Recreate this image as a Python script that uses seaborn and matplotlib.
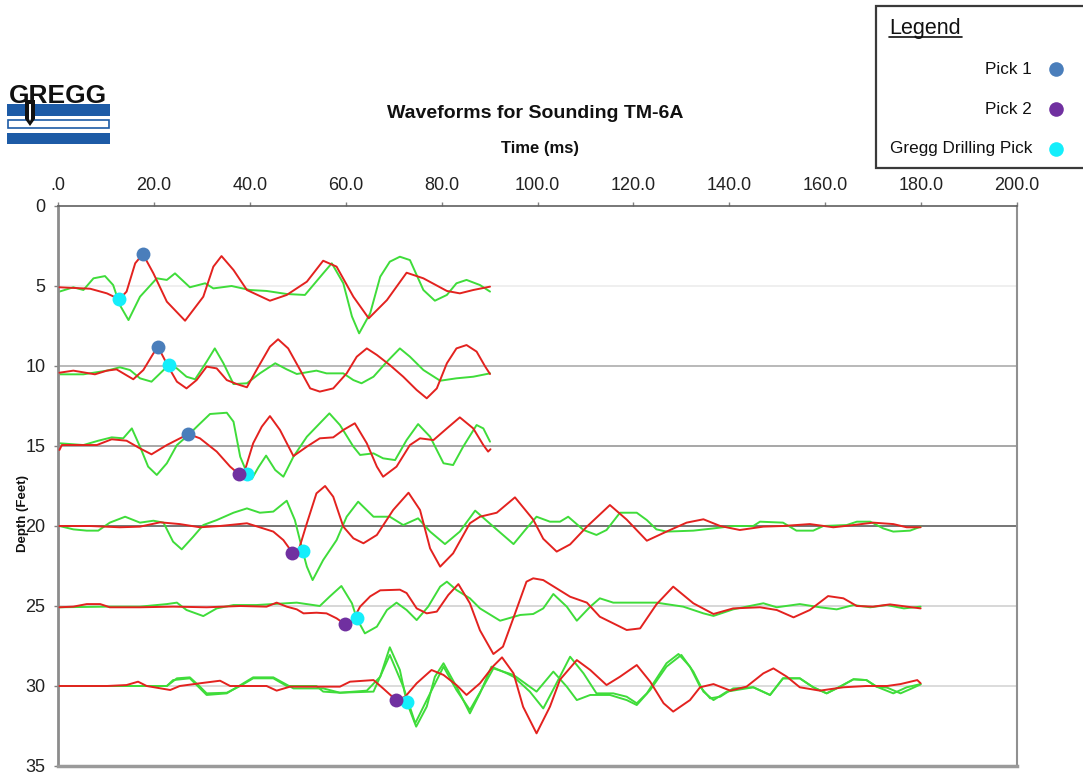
import pandas as pd
import seaborn as sns
import matplotlib
matplotlib.use('Agg')
import matplotlib.pyplot as plt
from matplotlib.patches import Rectangle, Polygon
from matplotlib.lines import Line2D

# waveform traces: time (ms) and plotted depth (ft)
t5_red = [0.3, 6.7, 10.2, 12.8, 14.3, 16.1, 17.7, 19.9, 22.7, 26.5, 30.3, 32.4, 34.1, 36.6, 39.4, 44.2, 47.7, 51.9,
          55.3, 58.1, 61.6, 64.8, 68.6, 72.7, 76.2, 81.1, 83.8, 86.6, 90.1]
d5_red = [5.08, 5.17, 5.46, 5.83, 5.35, 3.58, 3.0, 4.21, 5.98, 7.17, 5.67, 3.79, 3.13, 4.0, 5.25, 5.92, 5.56, 4.73,
          3.42, 3.79, 5.67, 7.02, 5.88, 4.17, 4.52, 5.31, 5.46, 5.25, 5.04]
t5_green = [0.3, 3.2, 5.3, 7.4, 9.8, 11.5, 12.9, 14.7, 17.1, 20.6, 22.7, 24.4, 27.5, 30.7, 32.4, 36.2, 40.0, 43.5,
            47.7, 51.5, 55.3, 57.1, 59.5, 61.3, 62.8, 65.1, 67.2, 69.2, 71.3, 73.4, 76.2, 78.6, 81.1, 83.1, 85.2,
            88.0, 90.1]
d5_green = [5.35, 5.08, 5.25, 4.52, 4.38, 4.94, 6.19, 7.13, 5.67, 4.52, 4.62, 4.21, 5.08, 4.83, 5.15, 5.0, 5.25, 5.31,
            5.5, 5.56, 4.21, 3.58, 4.83, 6.9, 7.96, 6.71, 4.42, 3.48, 3.17, 3.38, 5.25, 5.92, 5.56, 4.83, 4.62,
            4.94, 5.35]

t10_red = [0.3, 3.2, 7.7, 10.2, 12.2, 15.7, 17.8, 19.9, 20.9, 23.0, 24.8, 26.8, 28.9, 31.0, 33.1, 35.2, 37.3, 39.4,
           41.4, 44.2, 45.9, 48.0, 50.5, 52.6, 54.6, 57.4, 60.2, 62.3, 64.4, 66.5, 69.2, 72.0, 74.8, 76.9, 79.0,
           81.1, 83.1, 85.2, 87.3, 89.1, 90.1]
d10_red = [10.42, 10.29, 10.52, 10.29, 10.21, 10.83, 10.25, 9.21, 8.83, 10.04, 10.98, 11.4, 10.88, 10.04, 10.15,
           10.88, 11.13, 11.33, 10.25, 8.79, 8.33, 8.9, 10.25, 11.4, 11.6, 11.4, 10.46, 9.42, 8.9, 9.31, 9.94,
           10.67, 11.5, 12.02, 11.4, 9.83, 8.9, 8.69, 9.1, 10.04, 10.5]
t10_green = [0.3, 5.3, 10.2, 12.9, 15.0, 17.1, 19.5, 21.3, 23.1, 24.8, 26.8, 28.6, 31.0, 32.7, 34.5, 36.6, 39.4,
             42.1, 45.3, 47.7, 49.8, 53.9, 56.0, 59.5, 61.6, 63.3, 65.8, 68.6, 71.3, 73.4, 76.2, 79.7, 83.1, 86.6,
             90.1]
d10_green = [10.52, 10.52, 10.29, 10.08, 10.25, 10.77, 10.98, 10.46, 9.94, 10.15, 10.67, 10.83, 9.73, 8.9, 9.83,
             11.13, 11.08, 10.46, 9.83, 10.21, 10.5, 10.29, 10.46, 10.46, 10.88, 11.08, 10.67, 9.73, 8.9, 9.42,
             10.25, 10.92, 10.77, 10.67, 10.46]

t15_red = [0.3, 0.8, 5.3, 8.1, 11.2, 14.3, 17.1, 19.5, 22.7, 27.2, 29.6, 33.1, 35.9, 37.7, 39.0, 40.7, 42.5, 44.2,
           46.3, 49.1, 51.9, 54.6, 57.4, 59.5, 61.9, 64.4, 66.5, 67.8, 70.6, 73.4, 75.5, 78.3, 81.1, 83.8, 86.6,
           88.7, 89.7, 90.2]
d15_red = [15.25, 14.94, 14.94, 14.94, 14.58, 14.67, 15.15, 15.52, 14.94, 14.25, 14.52, 15.35, 16.29, 16.75, 16.5,
           14.83, 13.79, 13.13, 14.0, 15.63, 15.04, 14.52, 14.46, 14.0, 13.58, 14.83, 16.29, 16.92, 16.29, 14.94,
           14.52, 14.63, 13.9, 13.21, 13.9, 14.94, 15.35, 15.2]
t15_green = [0.3, 5.3, 8.4, 11.2, 13.6, 15.4, 17.1, 18.8, 20.6, 22.7, 24.8, 27.2, 29.3, 31.7, 35.2, 36.6, 38.0,
             39.5, 40.4, 41.8, 43.4, 45.3, 47.0, 49.1, 51.9, 54.6, 56.6, 58.8, 61.6, 63.0, 65.8, 67.8, 70.3, 72.7,
             75.1, 77.6, 80.4, 82.4, 84.5, 87.3, 88.7, 90.1]
d15_green = [14.83, 14.94, 14.67, 14.46, 14.52, 13.9, 15.04, 16.29, 16.81, 16.08, 14.94, 14.31, 13.69, 13.0, 12.92,
             13.48, 15.67, 16.75, 17.06, 16.33, 15.6, 16.5, 16.92, 15.67, 14.42, 13.58, 12.96, 13.69, 15.04, 15.56,
             15.46, 15.77, 15.88, 14.63, 13.63, 14.42, 16.08, 16.19, 15.04, 13.69, 13.9, 14.73]

t20_red = [0.3, 6.7, 12.9, 17.1, 21.3, 25.4, 29.6, 33.8, 39.4, 42.8, 44.9, 47.0, 48.9, 50.3, 51.9, 53.9, 55.7, 57.4,
           59.5, 61.6, 63.7, 66.5, 69.9, 73.1, 75.5, 77.6, 79.7, 82.4, 85.9, 88.0, 91.5, 95.3, 99.1, 101.2, 104.0,
           106.8, 110.3, 115.1, 118.6, 122.8, 126.9, 131.1, 134.6, 138.1, 142.2, 147.1, 151.2, 156.8, 161.7,
           165.9, 170.0, 174.2, 177.0, 179.9]
d20_red = [20.0, 20.0, 20.08, 20.04, 19.77, 19.88, 20.08, 20.0, 19.83, 20.15, 20.35, 20.88, 21.67, 21.4, 19.83,
           17.96, 17.5, 18.17, 20.04, 20.77, 21.08, 20.56, 19.0, 17.92, 19.0, 21.4, 22.54, 21.71, 19.83, 19.42,
           19.17, 18.21, 19.6, 20.8, 21.6, 21.15, 20.04, 18.69, 19.6, 20.92, 20.35, 19.79, 19.58, 20.0, 20.25,
           20.04, 20.0, 19.88, 20.08, 19.94, 19.79, 19.88, 20.08, 20.08]
t20_green = [0.3, 3.2, 6.0, 8.4, 10.8, 14.0, 17.1, 19.9, 22.0, 24.0, 25.8, 28.2, 30.3, 33.1, 36.6, 39.4, 42.1, 44.9,
             47.7, 49.4, 51.0, 51.9, 53.1, 55.3, 58.1, 60.2, 62.6, 65.8, 69.2, 72.0, 75.1, 77.6, 80.7, 83.8, 87.0,
             90.8, 95.0, 97.7, 99.8, 102.6, 104.7, 106.4, 109.6, 112.3, 114.4, 117.2, 120.7, 122.8, 124.8, 126.9,
             132.5, 136.7, 140.8, 145.0, 146.4, 151.2, 154.0, 157.5, 159.6, 164.5, 166.6, 169.4, 172.1, 174.2,
             177.7, 179.9]
d20_green = [20.0, 20.21, 20.29, 20.29, 19.79, 19.42, 19.79, 19.67, 19.79, 20.98, 21.46, 20.67, 19.94, 19.63, 19.17,
             18.9, 19.17, 19.1, 18.42, 19.63, 21.54, 22.54, 23.38, 22.13, 20.88, 19.42, 18.48, 19.42, 19.42, 19.94,
             19.52, 20.35, 21.13, 20.35, 19.04, 20.04, 21.13, 20.15, 19.42, 19.73, 19.73, 19.42, 20.25, 20.56,
             20.25, 19.17, 19.17, 19.63, 20.21, 20.35, 20.29, 20.15, 20.0, 20.0, 19.73, 19.79, 20.29, 20.29, 20.0,
             19.94, 19.73, 19.73, 20.15, 20.35, 20.29, 20.04]

t25_red = [0.3, 3.2, 6.0, 8.8, 10.8, 17.1, 24.0, 31.0, 38.0, 43.5, 45.6, 47.7, 49.8, 51.2, 53.9, 56.0, 58.1, 59.9,
           61.3, 63.0, 65.1, 67.2, 71.3, 72.7, 74.8, 76.9, 79.0, 81.4, 83.5, 85.9, 88.0, 90.8, 92.8, 95.0, 97.7,
           99.1, 101.2, 104.0, 106.8, 110.3, 113.0, 118.6, 121.4, 124.8, 128.3, 132.5, 136.7, 140.8, 146.4,
           149.9, 153.4, 156.8, 160.6, 163.8, 166.6, 170.0, 173.5, 177.0, 179.9]
d25_red = [25.08, 25.04, 24.88, 24.88, 25.08, 25.08, 25.04, 25.08, 25.0, 25.04, 24.79, 25.04, 25.21, 25.46, 25.42,
           25.46, 25.77, 26.15, 26.0, 25.04, 24.4, 24.02, 23.98, 24.19, 25.15, 25.46, 25.35, 24.31, 23.63, 24.83,
           26.52, 28.0, 27.54, 25.73, 23.48, 23.27, 23.38, 23.9, 24.42, 24.79, 25.67, 26.5, 26.4, 24.9, 23.79,
           24.83, 25.5, 25.15, 25.08, 25.25, 25.71, 25.25, 24.38, 24.52, 25.0, 25.04, 24.9, 25.04, 25.15]
t25_green = [0.3, 10.2, 17.1, 22.7, 24.8, 26.8, 30.3, 33.1, 36.6, 41.4, 49.8, 54.6, 56.7, 59.1, 61.3, 62.3, 64.0,
             66.5, 68.6, 70.6, 72.7, 74.8, 77.2, 79.7, 81.1, 83.1, 85.9, 88.0, 92.2, 96.4, 99.1, 101.2, 103.3,
             106.1, 108.2, 111.0, 113.0, 115.8, 121.4, 124.8, 130.4, 134.6, 136.7, 140.8, 147.1, 149.9, 154.7,
             158.9, 162.4, 165.9, 169.4, 172.9, 176.4, 179.9]
d25_green = [25.08, 25.04, 25.04, 24.88, 24.79, 25.25, 25.63, 25.15, 24.94, 24.94, 24.79, 25.0, 24.4, 23.75, 24.83,
             25.77, 26.71, 26.29, 25.25, 24.79, 25.25, 25.88, 25.04, 23.79, 23.48, 24.0, 24.52, 25.15, 25.92,
             25.56, 25.5, 25.15, 24.25, 25.04, 25.92, 25.04, 24.52, 24.79, 24.79, 24.79, 25.04, 25.46, 25.62,
             25.21, 24.83, 25.08, 24.88, 25.08, 25.21, 24.94, 25.08, 24.94, 25.15, 25.04]

t30_red = [0.3, 10.2, 14.3, 16.7, 18.5, 23.4, 25.4, 29.6, 33.8, 35.9, 43.5, 45.6, 48.4, 58.8, 60.9, 65.8, 67.8,
           70.5, 72.4, 74.8, 77.9, 80.4, 83.1, 85.2, 88.0, 90.8, 92.6, 95.0, 97.0, 99.8, 102.6, 104.7, 108.2,
           111.0, 114.4, 117.2, 120.7, 123.5, 126.3, 128.3, 131.8, 133.9, 136.7, 140.2, 143.6, 147.1, 149.2,
           152.0, 154.7, 158.9, 163.8, 168.6, 172.9, 175.7, 179.2, 179.9]
d30_red = [30.0, 30.0, 29.94, 29.73, 30.0, 30.25, 30.0, 29.83, 29.67, 30.0, 30.0, 30.29, 30.04, 30.04, 29.73, 29.63,
           30.15, 30.88, 30.67, 29.83, 29.0, 29.31, 29.94, 30.56, 29.83, 28.75, 28.21, 29.21, 31.3, 32.96, 31.29,
           29.6, 28.38, 29.0, 29.94, 29.42, 28.69, 29.73, 31.08, 31.6, 30.88, 30.08, 29.88, 30.29, 30.04, 29.21,
           28.9, 29.42, 30.08, 30.29, 30.08, 30.0, 30.0, 29.88, 29.63, 29.83]
t30_green = [0.3, 22.7, 24.8, 27.5, 29.6, 31.0, 35.2, 38.0, 40.7, 44.9, 47.7, 53.9, 55.3, 58.8, 64.4, 67.2, 69.2,
             71.3, 72.7, 74.7, 76.9, 78.6, 80.4, 83.1, 85.9, 88.0, 90.4, 93.6, 95.0, 98.4, 101.2, 103.6, 106.8,
             109.6, 112.3, 115.8, 118.6, 120.7, 122.8, 126.9, 129.4, 131.8, 133.9, 136.0, 138.1, 140.8, 145.0,
             148.5, 151.2, 154.7, 157.5, 160.3, 163.1, 165.9, 168.6, 170.7, 174.2, 177.0, 179.9]
d30_green = [30.0, 30.0, 29.52, 29.46, 30.04, 30.46, 30.42, 30.0, 29.52, 29.52, 30.0, 30.0, 30.35, 30.42, 30.29,
             29.42, 27.58, 29.0, 30.98, 32.54, 31.29, 29.42, 28.58, 30.04, 31.71, 30.46, 28.79, 29.21, 29.42,
             30.35, 31.4, 30.04, 28.17, 29.21, 30.46, 30.46, 30.67, 31.08, 30.46, 28.58, 28.0, 28.79, 30.04,
             30.77, 30.67, 30.15, 30.08, 30.56, 29.52, 29.52, 30.08, 30.46, 30.04, 29.58, 29.63, 30.04, 30.46,
             30.08, 29.88]
t30_green2 = [0.3, 22.7, 24.0, 27.5, 31.0, 35.2, 40.7, 44.9, 49.1, 55.3, 58.8, 65.8, 69.2, 72.0, 74.5, 76.9, 80.4,
              83.1, 85.9, 88.7, 90.8, 95.0, 99.8, 103.3, 106.1, 108.2, 111.0, 115.1, 118.6, 120.7, 123.5, 126.9,
              130.0, 132.5, 134.6, 136.7, 139.5, 145.0, 148.5, 151.2, 154.7, 157.5, 160.3, 163.1, 165.9, 168.6,
              170.7, 172.9, 175.7, 177.7, 179.9]
d30_green2 = [30.0, 30.0, 29.63, 29.52, 30.56, 30.46, 29.46, 29.46, 30.15, 30.15, 30.42, 30.35, 28.06, 30.04, 32.33,
              30.88, 28.79, 30.25, 31.5, 30.04, 28.9, 29.31, 30.35, 29.1, 30.04, 30.88, 30.56, 30.56, 30.88, 31.19,
              30.25, 28.79, 28.06, 29.1, 30.35, 30.88, 30.35, 30.08, 30.56, 29.52, 29.52, 30.08, 30.46, 30.04,
              29.58, 29.63, 30.04, 30.1, 30.46, 30.2, 29.9]

# picks
pick1_t = [17.7, 20.9, 27.2]
pick1_d = [3.0, 8.83, 14.25]
pick2_t = [37.7, 48.9, 59.9, 70.5]
pick2_d = [16.75, 21.67, 26.15, 30.88]
gregg_t = [12.8, 23.1, 39.5, 51.0, 62.3, 72.7]
gregg_d = [5.83, 9.94, 16.75, 21.54, 25.77, 30.98]

depth_ticks = [0, 5, 10, 15, 20, 25, 30, 35]
time_ticks = [0, 20, 40, 60, 80, 100, 120, 140, 160, 180, 200]

RED = '#e3221f'
GREEN = '#3fdc3a'
C_PICK1 = '#4a7ebb'
C_PICK2 = '#7030a0'
C_GREGG = '#14eefb'

traces = {
    '5r': (t5_red, d5_red, 'red'), '5g': (t5_green, d5_green, 'green'),
    '10r': (t10_red, d10_red, 'red'), '10g': (t10_green, d10_green, 'green'),
    '15r': (t15_red, d15_red, 'red'), '15g': (t15_green, d15_green, 'green'),
    '20r': (t20_red, d20_red, 'red'), '20g': (t20_green, d20_green, 'green'),
    '25r': (t25_red, d25_red, 'red'), '25g': (t25_green, d25_green, 'green'),
    '30r': (t30_red, d30_red, 'red'), '30g': (t30_green, d30_green, 'green'),
    '30g2': (t30_green2, d30_green2, 'green'),
}
rows = []
for key, (tt, dd, col) in traces.items():
    for a, b in zip(tt, dd):
        rows.append({'trace': key, 'wave': col, 'time': a, 'depth': b})
waves = pd.DataFrame(rows)

sns.set_theme(style='white')
plt.rcParams['font.family'] = ['Liberation Sans', 'DejaVu Sans']

W, H = 1083, 776
fig = plt.figure(figsize=(W / 100, H / 100), dpi=100)
ax = fig.add_axes([58 / W, 1 - 766 / H, (1017 - 58) / W, (766 - 206) / H])

def fx(px):
    return px / W

def fy(py):
    return 1 - py / H

# gridlines (colours differ per depth as in the original)
grid_cols = {5: '#ebebeb', 10: '#a6a6a6', 15: '#8f8f8f', 20: '#505050', 25: '#cdcdcd', 30: '#d2d2d2'}
for v, c in grid_cols.items():
    ax.axhline(v, color=c, lw=1.1, zorder=0)

sns.lineplot(data=waves[waves.wave == 'green'], x='time', y='depth', units='trace', estimator=None,
             sort=False, color=GREEN, lw=1.4, ax=ax, legend=False, zorder=2)
sns.lineplot(data=waves[waves.wave == 'red'], x='time', y='depth', units='trace', estimator=None,
             sort=False, color=RED, lw=1.4, ax=ax, legend=False, zorder=3)

sns.scatterplot(x=gregg_t, y=gregg_d, color=C_GREGG, s=100, linewidth=0, ax=ax, zorder=4)
sns.scatterplot(x=pick2_t, y=pick2_d, color=C_PICK2, s=100, linewidth=0, ax=ax, zorder=5)
sns.scatterplot(x=pick1_t, y=pick1_d, color=C_PICK1, s=100, linewidth=0, ax=ax, zorder=6)

ax.set_xlim(0, 200)
ax.set_ylim(35, 0)
ax.xaxis.tick_top()
ax.set_xticks(time_ticks)
ax.set_xticklabels(['.0' if v == 0 else f'{v:.1f}' for v in time_ticks])
ax.set_yticks(depth_ticks)
ax.set_yticklabels([str(v) for v in depth_ticks])
ax.set_xlabel('')
ax.set_ylabel('')
ax.tick_params(axis='x', top=True, bottom=False, length=3, width=1, color='#808080', pad=6,
               labelsize=13, labelcolor='#222222')
ax.tick_params(axis='y', left=True, length=3, width=1, color='#808080', pad=6,
               labelsize=13, labelcolor='#222222')
ax.spines['left'].set_color('#8c8c8c')
ax.spines['left'].set_linewidth(2)
ax.spines['bottom'].set_color('#9a9a9a')
ax.spines['bottom'].set_linewidth(2.5)
ax.spines['top'].set_color('#606060')
ax.spines['top'].set_linewidth(1.2)
ax.spines['right'].set_color('#909090')
ax.spines['right'].set_linewidth(1.5)

fig.text(fx(535), fy(114), 'Waveforms for Sounding TM-6A', ha='center', va='center',
         fontsize=14, fontweight='bold', color='#111111')
fig.text(fx(540), fy(148), 'Time (ms)', ha='center', va='center', fontsize=12, fontweight='bold',
         color='#111111')
fig.text(fx(23), fy(514), 'Depth (Feet)', ha='center', va='center', rotation=90, fontsize=9.5,
         fontweight='bold', color='#111111')

# legend box
fig.add_artist(Rectangle((fx(876), fy(168)), fx(1095) - fx(876), fy(6) - fy(168), transform=fig.transFigure,
                         facecolor='white', edgecolor='#3a3a3a', lw=1.6, zorder=10))
fig.text(fx(889), fy(34), 'Legend', ha='left', va='baseline', fontsize=15.5, color='#111111', zorder=11)
fig.add_artist(Line2D([fx(889), fx(962)], [fy(37), fy(37)], transform=fig.transFigure, color='#111111',
                      lw=1.2, zorder=11))
for label, col, yy in [('Pick 1', C_PICK1, 69), ('Pick 2', C_PICK2, 109), ('Gregg Drilling Pick', C_GREGG, 149)]:
    fig.text(fx(1032), fy(yy), label, ha='right', va='center', fontsize=12.3, color='#111111', zorder=11)
    fig.add_artist(Line2D([fx(1056)], [fy(yy)], transform=fig.transFigure, marker='o', markersize=10.5,
                          markerfacecolor=col, markeredgewidth=0, linestyle='none', zorder=11))

# logo
BLUE = '#1d5ba6'
fig.add_artist(Rectangle((fx(7), fy(116)), fx(110) - fx(7), fy(104) - fy(116), transform=fig.transFigure,
                         facecolor=BLUE, edgecolor='none'))
fig.add_artist(Rectangle((fx(8), fy(128)), fx(109) - fx(8), fy(120) - fy(128), transform=fig.transFigure,
                         facecolor='white', edgecolor=BLUE, lw=1.2))
fig.add_artist(Rectangle((fx(7), fy(144)), fx(110) - fx(7), fy(133) - fy(144), transform=fig.transFigure,
                         facecolor=BLUE, edgecolor='none'))
fig.text(fx(9), fy(103), 'GREGG', ha='left', va='baseline', fontsize=19, fontweight='bold', color='#111111')
fig.add_artist(Polygon([(fx(25), fy(100)), (fx(35), fy(100)), (fx(35), fy(119)), (fx(30), fy(126)),
                        (fx(25), fy(119))], closed=True, transform=fig.transFigure, facecolor='#111111',
                       edgecolor='none'))
fig.add_artist(Polygon([(fx(29), fy(104)), (fx(31), fy(104)), (fx(31), fy(119)), (fx(30), fy(121)),
                        (fx(29), fy(119))], closed=True, transform=fig.transFigure, facecolor='white',
                       edgecolor='none'))

fig.savefig('out.png', dpi=100)
